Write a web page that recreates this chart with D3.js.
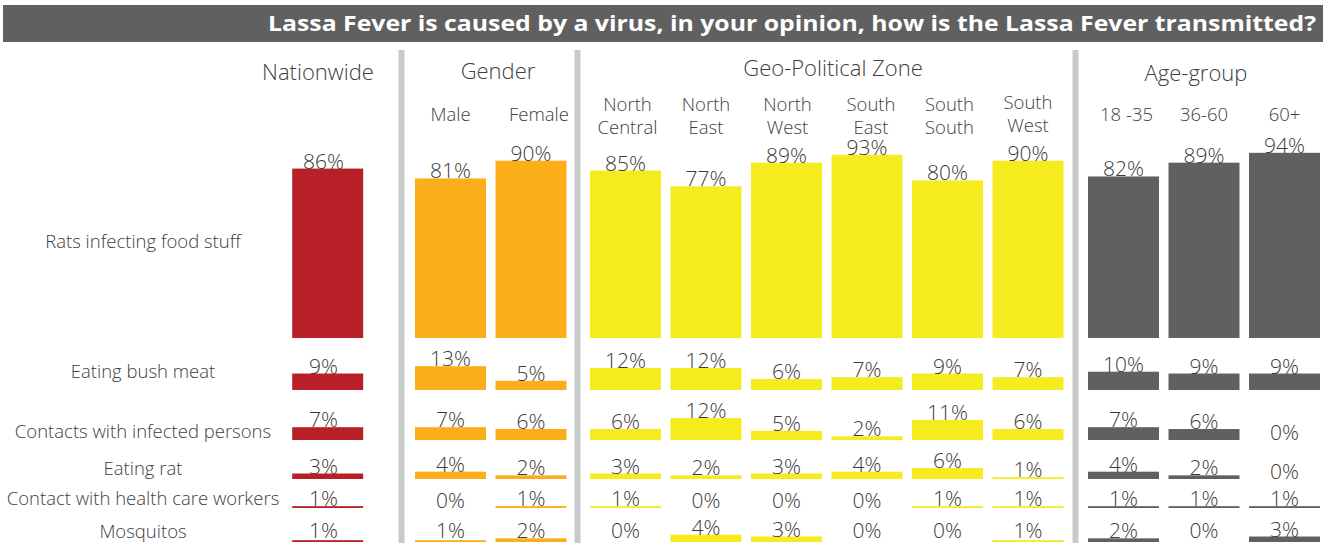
<!DOCTYPE html>
<html>
<head>
<meta charset="utf-8">
<script src="https://cdn.jsdelivr.net/npm/d3@7"></script>
<style>
	body { margin: 0; background: #fff; }
	svg { display: block; font-family: 'Open Sans', Lato, sans-serif; }
</style>
</head>
<body>
<div class="chart"></div>
<script>
// chart data
const title = 'Lassa Fever is caused by a virus, in your opinion, how is the Lassa Fever transmitted?'
const groups = ['Nationwide', 'Gender', 'Geo-Political Zone', 'Age-group']
const columns = ['Nationwide', 'Male', 'Female', 'North Central', 'North East', 'North West',
	'South East', 'South South', 'South West', '18 -35', '36-60', '60+']
const columnGroup = [0, 1, 1, 2, 2, 2, 2, 2, 2, 3, 3, 3]
const answers = ['Rats infecting food stuff', 'Eating bush meat', 'Contacts with infected persons',
	'Eating rat', 'Contact with health care workers', 'Mosquitos']

const ratsFood = [86, 81, 90, 85, 77, 89, 93, 80, 90, 82, 89, 94]
const bushMeat = [9, 13, 5, 12, 12, 6, 7, 9, 7, 10, 9, 9]
const infectedPersons = [7, 7, 6, 6, 12, 5, 2, 11, 6, 7, 6, 0]
const eatingRat = [3, 4, 2, 3, 2, 3, 4, 6, 1, 4, 2, 0]
const healthWorkers = [1, 0, 1, 1, 0, 0, 0, 1, 1, 1, 1, 1]
const mosquitos = [1, 1, 2, 0, 4, 3, 0, 0, 1, 2, 0, 3]
const values = [ratsFood, bushMeat, infectedPersons, eatingRat, healthWorkers, mosquitos]

// layout
const width = 1323
const height = 545
const colors = ['#b81f27', '#fbae19', '#f6eb1e', '#5f6060']
const groupStart = [288, 415, 590, 1088]
const step = 80.5
const barW = 71
const baselines = [338, 390, 440, 479, 508, 542]
const pxPerPct = [1.97, 1.83, 1.83, 1.83, 1.83, 1.83]
const rowLabelY = [248, 378, 438, 475, 505, 538]
const groupTitleX = [318, 498, 833, 1196]
const groupTitleY = [80, 79, 76, 81]
const subShift = [0, 0, 8, 2, 0, 1, 4, 2, 0, 3, 0, 0]
const separators = [401.5, 577.5, 1075.5]

const svg = d3.select('.chart')
	.append('svg')
	.attr('width', width)
	.attr('height', height)
	.attr('viewBox', [0, 0, width, height])

// title bar
svg.append('rect')
	.attr('x', 3).attr('y', 5)
	.attr('width', width - 3).attr('height', 37)
	.attr('fill', '#5f605f')
svg.append('text')
	.text(title)
	.attr('x', 1316).attr('y', 31)
	.attr('text-anchor', 'end')
	.attr('font-size', '21px')
	.attr('font-weight', 'bold')
	.attr('textLength', 1048)
	.attr('lengthAdjust', 'spacingAndGlyphs')
	.attr('fill', 'white')

// one band scale per group
const xScales = groups.map((g, gi) => {
	const cols = columns.filter((c, i) => columnGroup[i] === gi)
	return d3.scaleBand()
		.domain(cols)
		.range([groupStart[gi], groupStart[gi] + cols.length * step - (step - barW)])
		.paddingInner((step - barW) / step)
		.paddingOuter(0)
})
const xPos = (i) => xScales[columnGroup[i]](columns[i])
const xMid = (i) => xPos(i) + xScales[columnGroup[i]].bandwidth() / 2

// one y scale per answer row
const yScales = baselines.map((b, r) => d3.scaleLinear()
	.domain([0, 100])
	.range([b, b - 100 * pxPerPct[r]]))

// separators
svg.selectAll('rect.sep')
	.data(separators)
	.enter()
	.append('rect')
	.attr('class', 'sep')
	.attr('x', d => d - 3)
	.attr('y', 50)
	.attr('width', 6)
	.attr('height', 493)
	.attr('fill', '#c8c9cb')

// group titles
svg.selectAll('text.group')
	.data(groups)
	.enter()
	.append('text')
	.attr('class', 'group')
	.text(d => d)
	.attr('x', (d, gi) => groupTitleX[gi])
	.attr('y', (d, gi) => groupTitleY[gi])
	.attr('text-anchor', 'middle')
	.attr('font-size', '22px')
	.attr('font-weight', 300)
	.attr('fill', '#404040')

// column sub-headers (not for Nationwide)
const sub = svg.selectAll('text.sub')
	.data(columns.map((c, i) => ({ c, i })).filter(d => columnGroup[d.i] > 0))
	.enter()
	.append('text')
	.attr('class', 'sub')
	.attr('x', d => xMid(d.i) + subShift[d.i])
	.attr('text-anchor', 'middle')
	.attr('font-size', '18.5px')
	.attr('font-weight', 300)
	.attr('fill', '#404040')
sub.each(function(d) {
	const t = d3.select(this)
	if (columnGroup[d.i] === 2) {
		const words = d.c.split(' ')
		const top = d.c === 'South West' ? 109 : 111
		words.forEach((w, k) => {
			t.append('tspan').attr('x', xMid(d.i) + subShift[d.i]).attr('y', top + k * 23).text(w)
		})
	} else {
		t.attr('y', 121).text(d.c)
	}
})

// row labels
svg.selectAll('text.answer')
	.data(answers)
	.enter()
	.append('text')
	.attr('class', 'answer')
	.text(d => d)
	.attr('x', 143)
	.attr('y', (d, r) => rowLabelY[r])
	.attr('text-anchor', 'middle')
	.attr('font-size', '18.5px')
	.attr('font-weight', 300)
	.attr('fill', '#404040')

// bars and value labels
const cells = []
values.forEach((row, r) => row.forEach((v, i) => cells.push({ r, i, v })))

svg.selectAll('rect.bar')
	.data(cells.filter(d => d.v > 0))
	.enter()
	.append('rect')
	.attr('class', 'bar')
	.attr('x', d => xPos(d.i))
	.attr('y', d => yScales[d.r](d.v))
	.attr('width', barW)
	.attr('height', d => Math.max(1, yScales[d.r](0) - yScales[d.r](d.v)))
	.attr('fill', d => colors[columnGroup[d.i]])

svg.selectAll('text.value')
	.data(cells)
	.enter()
	.append('text')
	.attr('class', 'value')
	.text(d => d.v + '%')
	.attr('x', d => xMid(d.i))
	.attr('y', d => Math.min(height - 7, yScales[d.r](d.v)))
	.attr('text-anchor', 'middle')
	.attr('font-size', '21px')
	.attr('font-weight', 300)
	.attr('fill', '#3a3a3a')
</script>
</body>
</html>
